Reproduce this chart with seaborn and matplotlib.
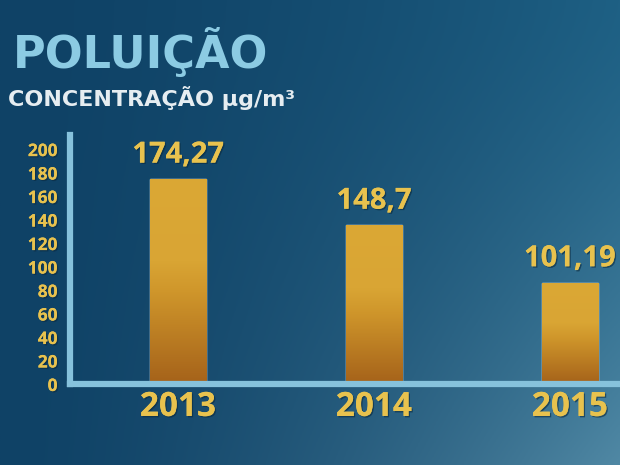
import numpy as np
import matplotlib
matplotlib.use("Agg")
import matplotlib.pyplot as plt
import matplotlib.patheffects as pe
import seaborn as sns
from matplotlib.colors import LinearSegmentedColormap

# values
years = ["2013", "2014", "2015"]
bar_heights = [174.27, 135, 86]          # heights as drawn in the graphic
value_labels = ["174,27", "148,7", "101,19"]
y_ticks = list(range(0, 201, 20))

title = "POLUIÇÃO"
subtitle = "CONCENTRAÇÃO µg/m³"

gold = "#e8c24e"
axis_blue = "#86c2dc"

sns.set_theme(style="white")
plt.rcParams["font.family"] = ["Open Sans", "DejaVu Sans"]

fig = plt.figure(figsize=(6.2, 4.65), dpi=100)

# background gradient, blue on the left, lighter toward bottom right
bg = fig.add_axes([0, 0, 1, 1], zorder=-10)
xx, yy = np.meshgrid(np.linspace(0, 1, 310), np.linspace(0, 1, 232))
c0 = np.array([15, 66, 102]) / 255
c1 = np.array([30, 96, 132]) / 255
c2 = np.array([80, 136, 164]) / 255
tx = xx ** 1.6
img = c0 + (c1 - c0) * tx[..., None] + (c2 - c1) * (tx * yy ** 1.5)[..., None]
bg.imshow(np.clip(img, 0, 1), aspect="auto", extent=[0, 1, 0, 1], origin="upper")
bg.axis("off")

# main chart
ax = fig.add_axes([70 / 620, (465 - 384) / 465, 550 / 620, (384 - 135) / 465])
ax.patch.set_alpha(0)
sns.barplot(x=years, y=bar_heights, ax=ax, width=0.29, color="#d09a2c",
            saturation=1)

bar_cmap = LinearSegmentedColormap.from_list(
    "bar", [(0, "#a5621a"), (0.45, "#cf962b"), (0.6, "#d9a534"), (1, "#dba835")])
grad = np.linspace(0, 1, 256).reshape(-1, 1)
for p in ax.patches:
    x0, y0 = p.get_x(), p.get_y()
    im = ax.imshow(grad, cmap=bar_cmap, origin="lower", aspect="auto",
                   extent=[x0, x0 + p.get_width(), y0, y0 + p.get_height()],
                   zorder=p.get_zorder() + 0.1)
    im.set_clip_path(p)

ax.set_xlim(-0.551, 2.255)
ax.set_ylim(0, 212)

shadow = [pe.withSimplePatchShadow(offset=(1, -1), shadow_rgbFace="#0a2a40", alpha=0.6),
          pe.Normal()]

ax.bar_label(ax.containers[0], labels=value_labels, padding=7, fontsize=21,
             fontweight="bold", color=gold, path_effects=shadow)

ax.set_yticks(y_ticks)
ax.set_yticklabels([str(v) for v in y_ticks], fontsize=12.5, fontweight="bold",
                   color=gold)
ax.set_xticks(range(len(years)))
ax.set_xticklabels(years, fontsize=24, fontweight="bold", color=gold)
for lbl in ax.get_xticklabels() + ax.get_yticklabels():
    lbl.set_path_effects(shadow)
ax.tick_params(axis="y", length=0, pad=9)
ax.tick_params(axis="x", length=0, pad=5)
ax.set_xlabel("")
ax.set_ylabel("")
ax.grid(False)

for side in ["top", "right"]:
    ax.spines[side].set_visible(False)
for side in ["left", "bottom"]:
    ax.spines[side].set_color(axis_blue)
    ax.spines[side].set_linewidth(4.5)
    ax.spines[side].set_capstyle("projecting")

fig.text(13 / 620, 1 - 68 / 465, title, fontsize=32, fontweight="bold",
         color="#8ccbe3", ha="left", va="baseline", family=["DejaVu Sans"])
fig.text(8 / 620, 1 - 106 / 465, subtitle, fontsize=16, fontweight="bold",
         color="#e6edf1", ha="left", va="baseline", family=["DejaVu Sans"])

fig.savefig("out.png", dpi=100)
